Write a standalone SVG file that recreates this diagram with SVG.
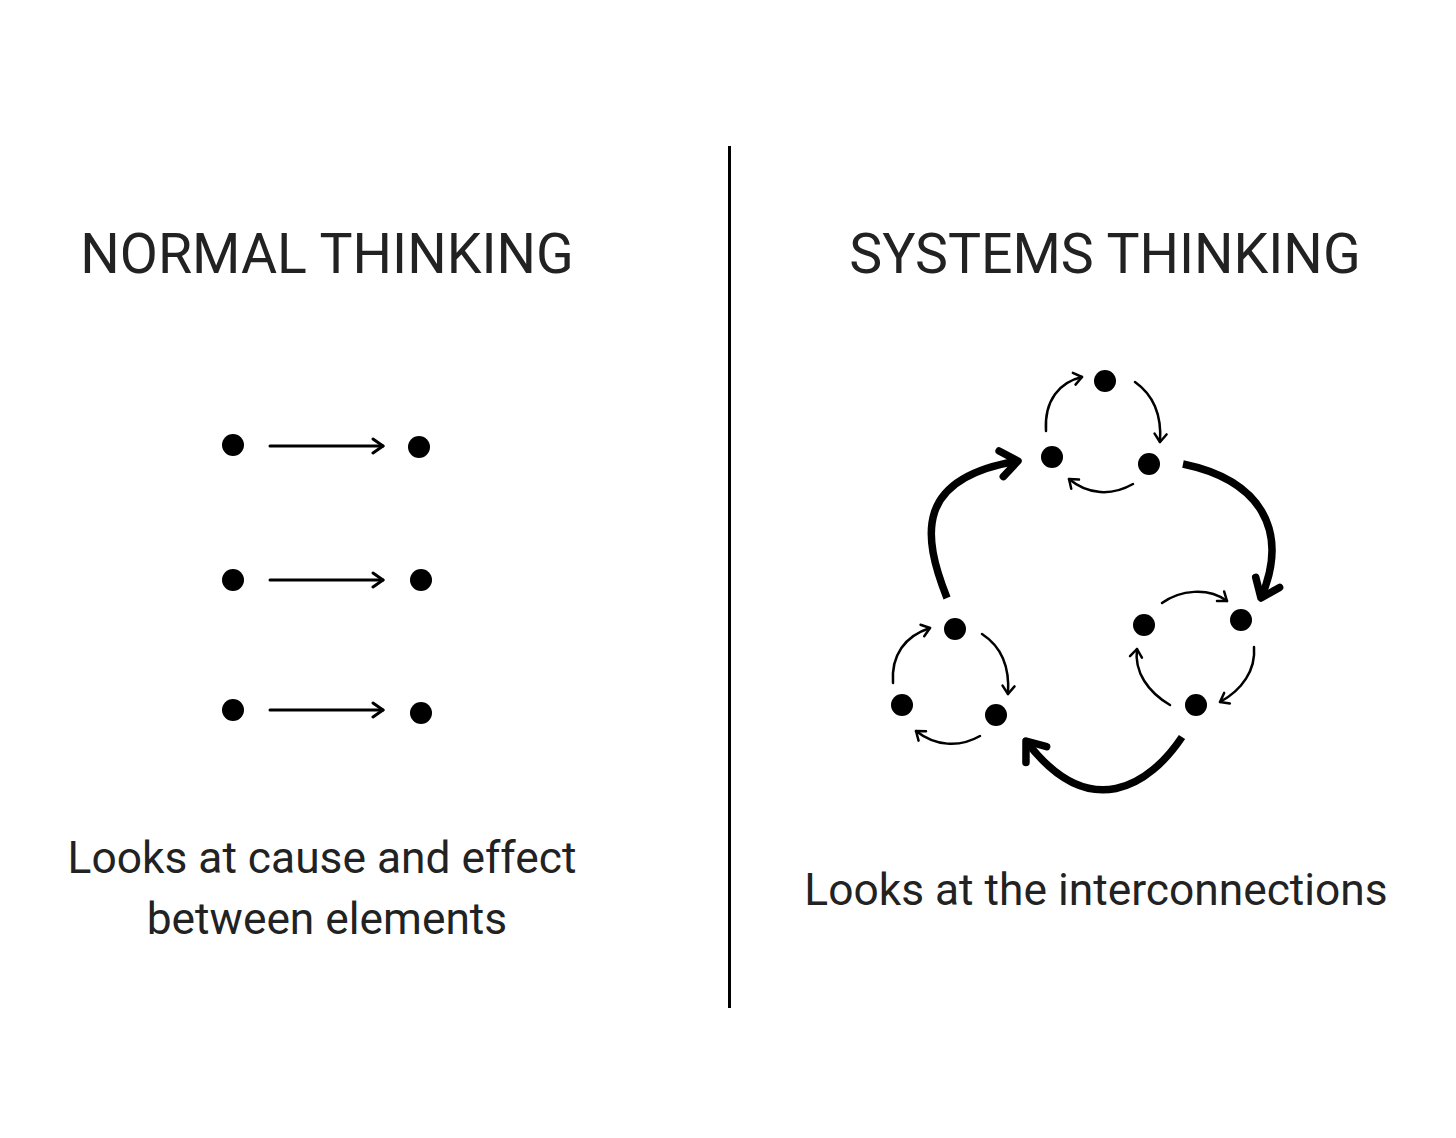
<svg xmlns="http://www.w3.org/2000/svg" width="1456" height="1138" viewBox="0 0 1456 1138">
<style>
.t{font-family:Roboto,"Liberation Sans",sans-serif;fill:#222;text-anchor:middle}
.h{font-size:55.4px}
.b{font-size:44.3px}
.dot{fill:#000}
.sm{fill:none;stroke:#000;stroke-width:2.5;stroke-linecap:round}
.st{fill:none;stroke:#000;stroke-width:3;stroke-linecap:round}
.bg{fill:none;stroke:#000;stroke-width:7.5}
</style>
<defs>
<marker id="ms" markerUnits="userSpaceOnUse" viewBox="-12 -8 14 16" refX="0" refY="0" markerWidth="14" markerHeight="16" orient="auto">
<path d="M-8,-6 L0,0 L-8,6" fill="none" stroke="#000" stroke-width="2.5" stroke-linecap="round" stroke-linejoin="round"/>
</marker>
<marker id="mt" markerUnits="userSpaceOnUse" viewBox="-14 -9 16 18" refX="0" refY="0" markerWidth="16" markerHeight="18" orient="auto">
<path d="M-10,-7 L0,0 L-10,7" fill="none" stroke="#000" stroke-width="3" stroke-linecap="round" stroke-linejoin="round"/>
</marker>
<marker id="mb" markerUnits="userSpaceOnUse" viewBox="-26 -18 30 36" refX="0" refY="0" markerWidth="30" markerHeight="36" orient="auto">
<path d="M-17,-13 L0,0 L-17,13" fill="none" stroke="#000" stroke-width="7.5" stroke-linecap="round" stroke-linejoin="round"/>
</marker>
</defs>
<rect width="1456" height="1138" fill="#fff"/>
<rect id="divider" x="728" y="146" width="3" height="862" fill="#000"/>
<g id="titles">
<text class="t h" x="327" y="273">NORMAL THINKING</text>
<text class="t h" x="1105" y="273">SYSTEMS THINKING</text>
</g>
<g id="captions">
<text class="t b" x="322" y="873">Looks at cause and effect</text>
<text class="t b" x="327" y="934">between elements</text>
<text class="t b" x="1096" y="905">Looks at the interconnections</text>
</g>
<g id="normal-nodes">
<circle class="dot" cx="233" cy="445" r="11"/>
<circle class="dot" cx="419" cy="447" r="11"/>
<circle class="dot" cx="233" cy="580" r="11"/>
<circle class="dot" cx="421" cy="580" r="11"/>
<circle class="dot" cx="233" cy="710" r="11"/>
<circle class="dot" cx="421" cy="713" r="11"/>
</g>
<g id="system-nodes">
<circle class="dot" cx="1105" cy="381" r="11"/>
<circle class="dot" cx="1052" cy="457" r="11"/>
<circle class="dot" cx="1149" cy="464" r="11"/>
<circle class="dot" cx="955" cy="629" r="11"/>
<circle class="dot" cx="902" cy="705" r="11"/>
<circle class="dot" cx="996" cy="715" r="11"/>
<circle class="dot" cx="1144" cy="625" r="11"/>
<circle class="dot" cx="1241" cy="620" r="11"/>
<circle class="dot" cx="1196" cy="705" r="11"/>
</g>
<g id="connectors">
<path class="st" d="M270,446 L383,446" marker-end="url(#mt)"/>
<path class="st" d="M270,580 L383,580" marker-end="url(#mt)"/>
<path class="st" d="M270,710 L383,710" marker-end="url(#mt)"/>
<path class="sm" d="M1046,431 C1044,400 1060,382 1082,377" marker-end="url(#ms)"/>
<path class="sm" d="M1135,382 C1152,394 1162,414 1160,442" marker-end="url(#ms)"/>
<path class="sm" d="M1133,484 C1112,496 1088,495 1069,479" marker-end="url(#ms)"/>
<path class="sm" d="M893,683 C891,655 905,636 930,628" marker-end="url(#ms)"/>
<path class="sm" d="M982,634 C999,645 1010,664 1008,694" marker-end="url(#ms)"/>
<path class="sm" d="M980,736 C959,748 935,746 916,731" marker-end="url(#ms)"/>
<path class="sm" d="M1162,603 C1180,590 1208,587 1227,601" marker-end="url(#ms)"/>
<path class="sm" d="M1254,647 C1256,670 1242,690 1220,702" marker-end="url(#ms)"/>
<path class="sm" d="M1170,705 C1148,692 1134,672 1137,649" marker-end="url(#ms)"/>
<path class="bg" d="M947,598 C922,535 915,478 1018,461" marker-end="url(#mb)"/>
<path class="bg" d="M1183,464 C1260,480 1290,530 1261,598" marker-end="url(#mb)"/>
<path class="bg" d="M1182,737 C1150,785 1090,825 1026,741" marker-end="url(#mb)"/>
</g>
</svg>
